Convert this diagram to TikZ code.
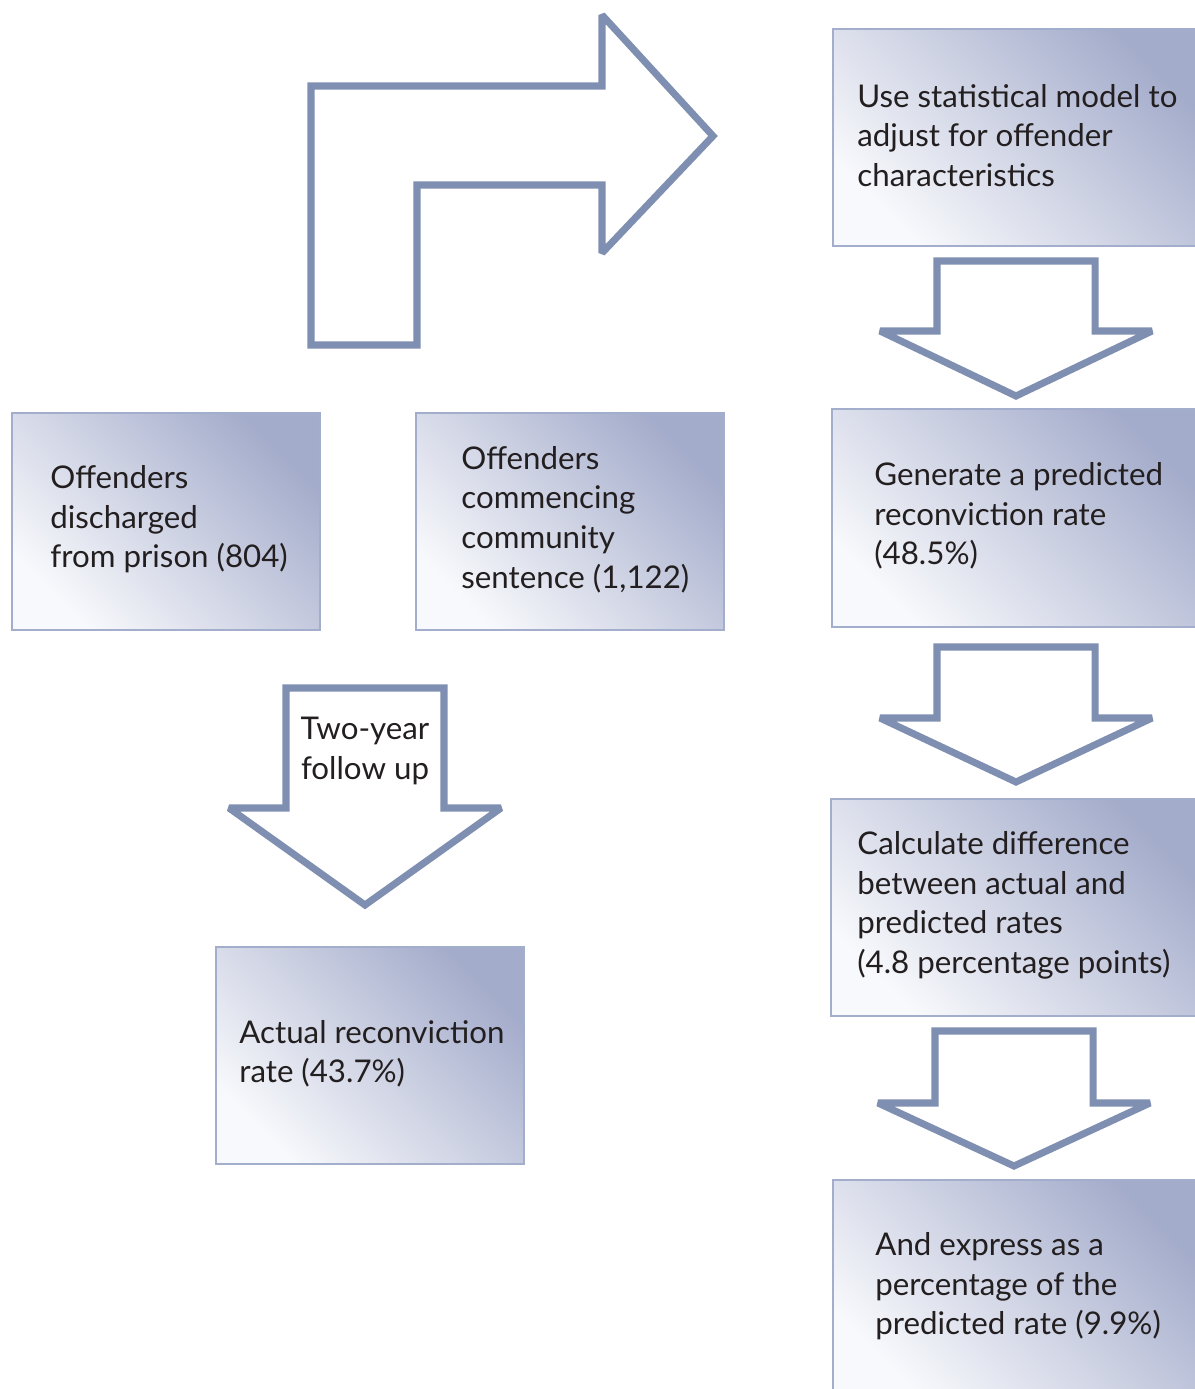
\documentclass[tikz,border=0pt]{standalone}
\usepackage{fontspec}
\setmainfont{Lato}
\usetikzlibrary{positioning,calc}
\definecolor{arrowblue}{RGB}{127,143,177}
\definecolor{boxedge}{RGB}{163,173,204}
\definecolor{boxdark}{RGB}{164,172,203}
\definecolor{boxlight}{RGB}{248,249,252}
\definecolor{inkgray}{RGB}{35,31,32}
\tikzset{
  stage/.style={draw=boxedge, line width=1.2pt, top color=boxdark, bottom color=boxlight,
    shading angle=-45, anchor=north west, inner sep=0pt},
  stagetext/.style={anchor=west, align=left, text=inkgray, inner sep=0pt,
    font=\fontsize{17.8}{22.5}\selectfont},
  blockline/.style={draw=arrowblue, line width=4pt, fill=white, line join=miter, miter limit=2},
}
% hollow arrow pointing down: centre x, top, wing line, tip
\newcommand{\downblock}[4]{%
  \draw[blockline] ({#1-\shaft},#2) -- ({#1+\shaft},#2) -- ({#1+\shaft},#3) -- ({#1+\wing},#3)
    -- (#1,#4) -- ({#1-\wing},#3) -- ({#1-\shaft},#3) -- cycle;}

\begin{document}
\begin{tikzpicture}[x=0.02cm, y=-0.02cm]
  \def\shaft{79};
  \def\wing{136};
  \useasboundingbox (0,0) rectangle (1195,1389);
  \clip (0,0) rectangle (1195,1389);

  % bent arrow at the top
  \draw[blockline] (311,345) -- (311,86) -- (602,86) -- (602,15) -- (713,136)
    -- (602,253) -- (602,185) -- (417,185) -- (417,345) -- cycle;

  % left column
  \node[stage, minimum width=6.16cm, minimum height=4.34cm] (prison) at (11,412) {};
  \node[stagetext] (prisontxt) at ($(prison.west)+(39,-2)$) {Offenders\\discharged\\from prison (804)};
  \node[stage, minimum width=6.16cm, minimum height=4.34cm] (community) at (415,412) {};
  \node[stagetext] (communitytxt) at ($(community.west)+(46,-2)$) {Offenders\\commencing\\community\\sentence (1,122)};

  \downblock{365}{688}{808}{905}
  \node[stagetext, anchor=center, align=center] (followup) at (365,751) {Two-year\\follow up};

  \node[stage, minimum width=6.16cm, minimum height=4.34cm] (actual) at (215,946) {};
  \node[stagetext] (actualtxt) at ($(actual.west)+(24,-2)$) {Actual reconviction\\rate (43.7\%)};

  % right column
  \node[stage, minimum width=7.4cm, minimum height=4.34cm] (model) at (832,28) {};
  \node[stagetext] (modeltxt) at ($(model.west)+(25,-2)$) {Use statistical model to\\adjust for offender\\characteristics};

  \downblock{1016}{261}{331}{396}

  \node[stage, minimum width=7.4cm, minimum height=4.36cm] (predicted) at (831,408) {};
  \node[stagetext] (predictedtxt) at ($(predicted.west)+(43,-2)$) {Generate a predicted\\reconviction rate\\(48.5\%)};

  \downblock{1016}{647}{718}{782}

  \node[stage, minimum width=7.4cm, minimum height=4.34cm] (difference) at (830,798) {};
  \node[stagetext] (differencetxt) at ($(difference.west)+(27,-2)$) {Calculate difference\\between actual and\\predicted rates\\(4.8 percentage points)};

  \downblock{1014}{1031}{1103}{1166}

  \node[stage, minimum width=7.4cm, minimum height=4.34cm] (express) at (832,1179) {};
  \node[stagetext] (expresstxt) at ($(express.west)+(43,-2)$) {And express as a\\percentage of the\\predicted rate (9.9\%)};
\end{tikzpicture}
\end{document}
